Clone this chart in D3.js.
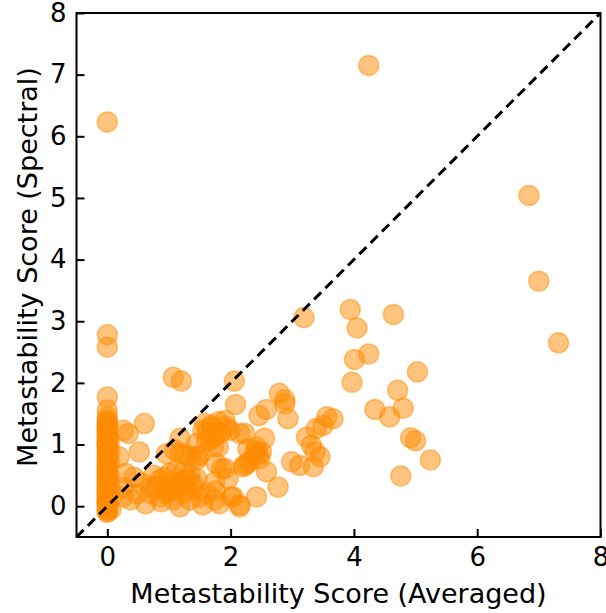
<!DOCTYPE html>
<html>
<head>
<meta charset="utf-8">
<script src="https://cdn.jsdelivr.net/npm/d3@7/dist/d3.min.js"></script>
<style>
  html, body { margin: 0; padding: 0; background: #fff; }
  svg { display: block; }
  text { font-family: "DejaVu Sans", sans-serif; fill: #000; }
</style>
</head>
<body>
<div id="chart"></div>
<script>
// Metastability scores, averaged (x) vs spectral (y), grouped by region of the plot.

// Structures with an averaged score of (nearly) zero
const zeroAvg = [
  0, 0, 0, 0, 0, 0, 0, 0, 0, 0,
  0, 0, 0, 0, 0, 0, 0, 0, 0, 0,
  0, 0, 0, 0, 0, 0, 0, 0, 0, 0,
  0, 0, 0, 0, 0, 0, 0, 0, 0, 0,
  0, 0, 0, 0, 0, 0, 0, 0, 0, 0,
  0, 0, 0, 0, 0, 0, 0, 0, 0, 0,
  0.04, 0.05, 0.05, 0.04, 0.06, 0.03, 0.05, 0.04
];
const zeroSpec = [
  6.23, 2.78, 2.58, 1.77, 1.56, 1.45, 1.40, 1.36, 1.30, 1.28,
  1.25, 1.24, 1.20, 1.18, 1.14, 1.10, 1.05, 1.02, 1.00, 0.99,
  0.95, 0.91, 0.88, 0.84, 0.80, 0.77, 0.74, 0.70, 0.66, 0.63,
  0.60, 0.56, 0.52, 0.49, 0.45, 0.42, 0.38, 0.34, 0.30, 0.27,
  0.24, 0.21, 0.18, 0.15, 0.12, 0.08, 0.06, 0.03, 0.02, -0.03,
  -0.06, -0.08, -0.10, 1.35, 0.98, 0.56, 0.09, 0.40, 0.20, 0.05,
  0.70, 0.32, 0.12, 1.05, -0.05, 0.50, 0.25, 0.88
];

// Small averaged scores (0.2 - 0.9)
const smallAvg = [
  0.26, 0.34, 0.60, 0.52, 0.19, 0.30, 0.43, 0.38, 0.25, 0.71,
  0.84, 0.62, 0.87, 0.25, 0.69, 0.55, 0.48, 0.75
];
const smallSpec = [
  1.23, 1.18, 1.34, 0.88, 0.80, 0.53, 0.47, 0.10, 0.15, 0.31,
  0.42, 0.04, 0.07, 0.30, 0.21, 0.38, 0.20, 0.50
];

// Averaged scores around 1 - 2
const midAvg = [
  1.07, 1.20, 1.18, 1.09, 1.18, 1.34, 1.45, 1.50, 0.96, 1.26,
  1.47, 1.55, 1.69, 1.74, 1.82, 1.61, 1.72, 1.80, 1.58, 1.80,
  1.93, 1.99, 1.91, 1.66, 1.45, 1.85, 1.85, 1.96, 1.77, 1.91,
  1.74, 1.61, 1.82, 2.01, 2.15, 0.91, 1.01, 1.12, 1.23, 1.34,
  1.45, 1.01, 1.18, 1.28, 0.80, 0.85, 1.07, 1.18, 1.34, 1.50,
  1.74, 1.55, 1.12, 1.40, 0.95, 1.25, 1.05, 1.15, 1.30, 1.22,
  0.98, 1.40, 1.62, 1.70, 1.75
];
const midSpec = [
  2.09, 2.03, 1.10, 0.91, 0.85, 0.80, 0.75, 0.83, 0.85, 0.85,
  0.80, 1.23, 1.31, 1.12, 1.18, 1.07, 0.96, 0.96, 1.34, 1.37,
  1.29, 1.23, 1.39, 1.07, 1.02, 1.20, 0.61, 0.45, 0.69, 0.61,
  0.39, 0.21, 0.04, 0.15, -0.01, 0.47, 0.53, 0.58, 0.56, 0.50,
  0.45, 0.31, 0.37, 0.26, 0.31, 0.15, 0.10, -0.01, 0.10, 0.15,
  0.10, 0.02, 0.30, 0.35, 0.20, 0.40, 0.40, 0.35, 0.45, 0.20,
  0.25, 0.28, 1.20, 1.28, 0.25
];

// Averaged scores around 2 - 3.7
const upperAvg = [
  2.06, 2.08, 2.79, 2.88, 2.58, 2.46, 2.93, 2.88, 2.15, 2.23,
  2.55, 2.28, 2.42, 2.50, 2.39, 2.47, 2.31, 2.23, 2.58, 2.77,
  2.42, 2.04, 2.15, 2.26, 2.20, 2.40, 2.45, 2.99, 3.12, 3.23,
  3.39, 3.50, 3.31, 3.37, 3.45, 3.34, 3.56, 3.66, 3.19
];
const upperSpec = [
  2.03, 1.65, 1.83, 1.73, 1.57, 1.47, 1.42, 1.66, 1.18, 1.18,
  1.10, 0.93, 0.96, 0.88, 0.83, 0.77, 0.72, 0.66, 0.56, 0.31,
  0.15, 0.15, 0.02, 0.69, 0.64, 0.90, 0.85, 0.72, 0.66, 1.12,
  1.26, 1.31, 0.99, 0.88, 0.80, 0.64, 1.45, 1.42, 3.06
];

// High averaged scores
const highAvg = [
  3.94, 4.64, 4.05, 4.24, 4.01, 3.97, 5.03, 4.71, 4.34, 4.58,
  4.80, 4.92, 5.00, 5.24, 4.76, 4.24, 6.84, 7.00, 7.32
];
const highSpec = [
  3.19, 3.11, 2.89, 2.47, 2.38, 2.01, 2.18, 1.88, 1.57, 1.45,
  1.59, 1.11, 1.06, 0.75, 0.49, 7.15, 5.04, 3.65, 2.65
];

const xTicks = [0, 2, 4, 6, 8];
const yTicks = [0, 1, 2, 3, 4, 5, 6, 7, 8];
const xDomain = [-0.5, 8];
const yDomain = [-0.5, 8];
const xTitle = "Metastability Score (Averaged)";
const yTitle = "Metastability Score (Spectral)";

const averagedScores = [].concat(zeroAvg, smallAvg, midAvg, upperAvg, highAvg);
const spectralScores = [].concat(zeroSpec, smallSpec, midSpec, upperSpec, highSpec);

const W = 606, H = 613;
const margin = { left: 76.5, top: 13, right: 5.5, bottom: 76 };
const iw = W - margin.left - margin.right;
const ih = H - margin.top - margin.bottom;

const svg = d3.select("#chart").append("svg").attr("width", W).attr("height", H);
const g = svg.append("g").attr("transform", `translate(${margin.left},${margin.top})`);

const x = d3.scaleLinear().domain(xDomain).range([0, iw]);
const y = d3.scaleLinear().domain(yDomain).range([ih, 0]);

g.append("clipPath").attr("id", "plot-clip")
  .append("rect").attr("width", iw).attr("height", ih);

const points = averagedScores.map((v, i) => ({ a: v, s: spectralScores[i] }));

const col = "#ff8c00";
g.append("g").attr("clip-path", "url(#plot-clip)")
  .selectAll("circle").data(points).join("circle")
  .attr("cx", d => x(d.a))
  .attr("cy", d => y(d.s))
  .attr("r", 10)
  .attr("fill", col).attr("fill-opacity", 0.5)
  .attr("stroke", col).attr("stroke-opacity", 0.5).attr("stroke-width", 1.5);

// identity reference line
g.append("line")
  .attr("clip-path", "url(#plot-clip)")
  .attr("x1", x(xDomain[0])).attr("y1", y(yDomain[0]))
  .attr("x2", x(xDomain[1])).attr("y2", y(yDomain[1]))
  .attr("stroke", "#000").attr("stroke-width", 3).attr("stroke-dasharray", "10,6");

// axes with inward ticks
const xAxis = d3.axisBottom(x).tickValues(xTicks).tickFormat(d3.format("d")).tickSizeInner(-8).tickSizeOuter(0).tickPadding(11);
const yAxis = d3.axisLeft(y).tickValues(yTicks).tickFormat(d3.format("d")).tickSizeInner(-8).tickSizeOuter(0).tickPadding(10);

const gx = g.append("g").attr("transform", `translate(0,${ih})`).call(xAxis);
const gy = g.append("g").call(yAxis);
[gx, gy].forEach(a => {
  a.select(".domain").remove();
  a.selectAll(".tick line").attr("stroke", "#000").attr("stroke-width", 2);
  a.selectAll(".tick text").style("font-size", "26px").attr("fill", "#000");
});

// frame
g.append("rect").attr("width", iw).attr("height", ih)
  .attr("fill", "none").attr("stroke", "#000").attr("stroke-width", 2);

svg.append("text")
  .attr("x", margin.left + iw / 2).attr("y", 603)
  .attr("text-anchor", "middle").style("font-size", "27px").text(xTitle);

svg.append("text")
  .attr("transform", `translate(37,267) rotate(-90)`)
  .attr("text-anchor", "middle").style("font-size", "27px").text(yTitle);
</script>
</body>
</html>
